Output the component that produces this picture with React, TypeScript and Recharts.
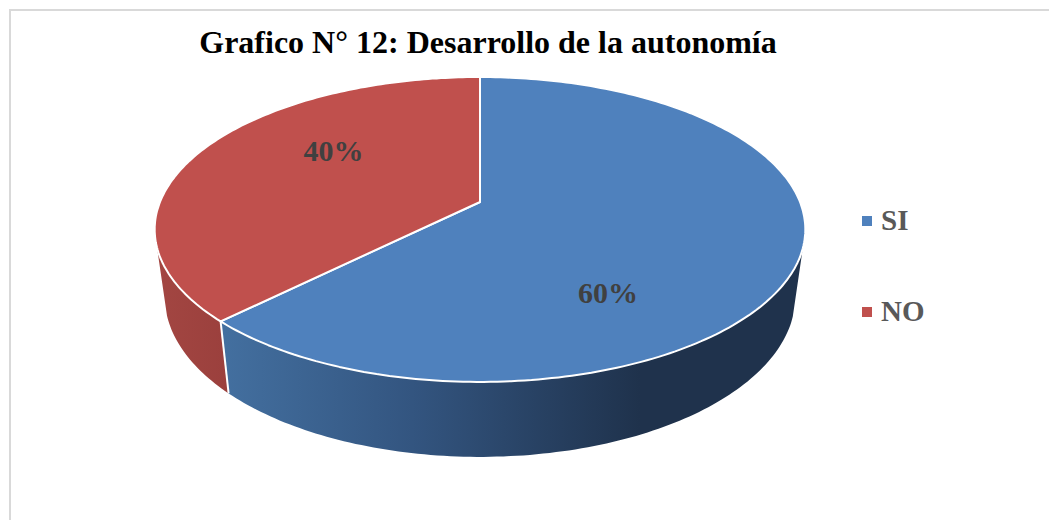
import { Legend, Pie, PieChart } from 'recharts'

const categories = ['SI', 'NO']
const values = [60, 40]
const colors = ['#4f81bd', '#c0504d']

const chartData = categories.map((name, i) => ({ name, value: values[i], fill: colors[i] }))

// flattening and perspective of the tilted disc
const FLATTEN = 147.5 / 320
const PERSP = 0.18

// project a clock angle (degrees from 12 o'clock) onto the top of the disc
function rim(cx: number, cy: number, r: number, clock: number, frac = 1) {
  const t = ((clock + 9.5 * Math.sin((clock * Math.PI) / 360)) * Math.PI) / 180
  const sx = Math.sin(t) * frac
  const sy = -Math.cos(t) * frac
  const d = 1 - PERSP * sy
  return { x: cx + (r * sx) / d, y: cy + (r * FLATTEN * sy) / d }
}

// same point on the lower face, the wall is about 75px deep
function lower(cx: number, cy: number, p: { x: number; y: number }) {
  return { x: cx + 0.969 * (p.x - cx), y: cy + 66 + 1.05 * (p.y - cy) }
}

function range(a: number, b: number) {
  const out: number[] = []
  const steps = Math.max(2, Math.ceil(Math.abs(b - a)))
  for (let i = 0; i <= steps; i++) out.push(a + ((b - a) * i) / steps)
  return out
}

const toPath = (pts: { x: number; y: number }[]) =>
  pts.map((p, i) => `${i ? 'L' : 'M'}${p.x.toFixed(1)},${p.y.toFixed(1)}`).join(' ')

function DiscSlice(props: any) {
  const { cx, cy, outerRadius, startAngle, endAngle, index, fill } = props
  const from = 90 - startAngle
  const to = 90 - endAngle
  // wall only shows between the two points where it leaves the rim
  const wallFrom = Math.max(from, 100)
  const wallTo = Math.min(to, 245)
  const topRim = range(wallFrom, wallTo).map((c) => rim(cx, cy, outerRadius, c))
  const lowRim = topRim.map((p) => lower(cx, cy, p)).reverse()
  const face = range(from, to).map((c) => rim(cx, cy, outerRadius, c))
  return (
    <g>
      <path d={toPath([...topRim, ...lowRim]) + ' Z'} fill={`url(#wall${index})`} />
      {index === 1 ? (
        <path d={toPath([rim(cx, cy, outerRadius, from), lower(cx, cy, rim(cx, cy, outerRadius, from))])} stroke="#fff" strokeWidth={2} fill="none" />
      ) : null}
      <path d={`M${cx},${cy} ${toPath(face).replace('M', 'L')} Z`} fill={fill} stroke="#fff" strokeWidth={2} strokeLinejoin="round" />
    </g>
  )
}

const labelShift = [
  { dx: -22, dy: 57 },
  { dx: -5, dy: -23 },
]

function SliceLabel(props: any) {
  const { cx, cy, outerRadius, midAngle, index, value } = props
  const p = rim(cx, cy, outerRadius, 90 - midAngle, 0.5)
  return (
    <text x={p.x + labelShift[index].dx} y={p.y + labelShift[index].dy} textAnchor="middle" dominantBaseline="central" fontFamily="Liberation Serif" fontWeight="bold" fontSize={30} fill="#404040">
      {value}%
    </text>
  )
}

function LegendList({ payload }: any) {
  return (
    <div style={{ fontFamily: 'Liberation Serif', fontWeight: 'bold', fontSize: 29, color: '#595959' }}>
      {(payload ?? []).map((entry: any) => (
        <div key={entry.value} style={{ display: 'flex', alignItems: 'center', height: 91 }}>
          <span style={{ width: 10, height: 10, background: entry.color, marginRight: 9 }} />
          {entry.value}
        </div>
      ))}
    </div>
  )
}

export default function App() {
  return (
    <div style={{ position: 'absolute', left: 0, top: 0, width: 1049, height: 520, background: '#fff', overflow: 'hidden' }}>
      <div style={{ position: 'absolute', left: 9, top: 9, width: 1060, height: 540, border: '2px solid #d9d9d9', boxSizing: 'border-box' }} />
      <PieChart width={1049} height={520} margin={{ top: 0, right: 0, bottom: 0, left: 0 }}>
        <defs>
          <linearGradient id="wall0" gradientUnits="userSpaceOnUse" x1={225} y1={0} x2={640} y2={0}>
            <stop offset="0" stopColor="#436f9f" />
            <stop offset="0.45" stopColor="#335580" />
            <stop offset="1" stopColor="#1f324c" />
          </linearGradient>
          <linearGradient id="wall1" gradientUnits="userSpaceOnUse" x1={155} y1={0} x2={226} y2={0}>
            <stop offset="0" stopColor="#a34642" />
            <stop offset="1" stopColor="#9b403d" />
          </linearGradient>
        </defs>
        <text x={488} y={53} textAnchor="middle" fontFamily="Liberation Serif" fontWeight="bold" fontSize={32} fill="#000">
          Grafico N° 12: Desarrollo de la autonomía
        </text>
        <Pie
          data={chartData}
          dataKey="value"
          nameKey="name"
          cx={480}
          cy={202}
          outerRadius={320}
          startAngle={90}
          endAngle={-270}
          paddingAngle={0}
          isAnimationActive={false}
          shape={DiscSlice}
          label={SliceLabel}
          labelLine={false}
        />
        <Legend
          layout="vertical"
          align="right"
          verticalAlign="top"
          itemSorter={null}
          content={LegendList}
          wrapperStyle={{ left: 862, top: 175, width: 120 }}
        />
      </PieChart>
    </div>
  )
}
